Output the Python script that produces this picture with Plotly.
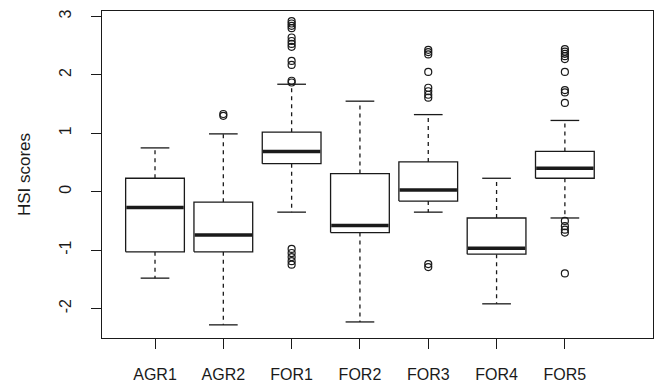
import plotly.graph_objects as go

categories = ["AGR1", "AGR2", "FOR1", "FOR2", "FOR3", "FOR4", "FOR5"]
lower_whisker = [-1.48, -2.28, -0.35, -2.23, -0.35, -1.92, -0.45]
q1 = [-1.03, -1.03, 0.48, -0.70, -0.16, -1.07, 0.23]
median = [-0.27, -0.74, 0.69, -0.58, 0.03, -0.97, 0.40]
q3 = [0.23, -0.18, 1.02, 0.31, 0.51, -0.45, 0.69]
upper_whisker = [0.75, 0.99, 1.84, 1.55, 1.32, 0.23, 1.22]
outliers = [
    [],
    [1.30, 1.33],
    [2.92, 2.88, 2.84, 2.80, 2.64, 2.58, 2.53, 2.48, 2.24, 2.17, 1.90, 1.87,
     -0.98, -1.05, -1.12, -1.19, -1.25],
    [],
    [2.43, 2.39, 2.35, 2.05, 1.78, 1.72, 1.66, 1.61, -1.24, -1.29],
    [],
    [2.44, 2.40, 2.36, 2.32, 2.27, 2.05, 1.74, 1.70, 1.52,
     -0.50, -0.59, -0.65, -0.70, -1.40],
]
y_ticks = [-2, -1, 0, 1, 2, 3]

BW = 0.43   # box half-width
CW = 0.21   # cap half-width
INK = "#1a1a1a"

bx, by, wx, wy, cx, cy, mx, my, ox, oy = [], [], [], [], [], [], [], [], [], []
for i, _ in enumerate(categories):
    p = i + 1
    bx += [p - BW, p + BW, p + BW, p - BW, p - BW, None]
    by += [q1[i], q1[i], q3[i], q3[i], q1[i], None]
    wx += [p, p, None, p, p, None]
    wy += [q3[i], upper_whisker[i], None, q1[i], lower_whisker[i], None]
    cx += [p - CW, p + CW, None, p - CW, p + CW, None]
    cy += [upper_whisker[i], upper_whisker[i], None, lower_whisker[i], lower_whisker[i], None]
    mx += [p - BW + 0.01, p + BW - 0.01, None]
    my += [median[i], median[i], None]
    for v in outliers[i]:
        ox.append(p)
        oy.append(v)

fig = go.Figure()
fig.add_trace(go.Scatter(x=wx, y=wy, mode="lines",
                         line=dict(color=INK, width=1.3, dash="4px,4px"),
                         hoverinfo="skip", showlegend=False))
fig.add_trace(go.Scatter(x=cx, y=cy, mode="lines",
                         line=dict(color=INK, width=1.3),
                         hoverinfo="skip", showlegend=False))
fig.add_trace(go.Scatter(x=bx, y=by, mode="lines", fill="toself", fillcolor="white",
                         line=dict(color=INK, width=1.3),
                         hoverinfo="skip", showlegend=False))
fig.add_trace(go.Scatter(x=mx, y=my, mode="lines",
                         line=dict(color=INK, width=3.5),
                         hoverinfo="skip", showlegend=False))
fig.add_trace(go.Scatter(x=ox, y=oy, mode="markers",
                         marker=dict(symbol="circle-open", size=7, color=INK,
                                     line=dict(width=1.2)),
                         showlegend=False))

fig.update_layout(
    width=659, height=384,
    margin=dict(l=102, r=6, t=11, b=46),
    paper_bgcolor="white", plot_bgcolor="white",
    font=dict(family="Liberation Sans, Arial, sans-serif", color=INK, size=16),
    xaxis=dict(range=[0.224, 8.29], tickvals=list(range(1, len(categories) + 1)),
               ticktext=categories, showgrid=False, zeroline=False, automargin=False,
               showline=True, mirror=True, linecolor=INK, linewidth=1.2,
               ticks="outside", ticklen=10, tickcolor=INK, tickwidth=1,
               ticklabelstandoff=12, tickfont=dict(size=16)),
    yaxis=dict(range=[-2.505, 3.094], tickvals=y_ticks,
               ticktext=[str(t) for t in y_ticks], tickangle=-90,
               showgrid=False, zeroline=False, automargin=False,
               showline=True, mirror=True, linecolor=INK, linewidth=1.2,
               ticks="outside", ticklen=10, tickcolor=INK, tickwidth=1,
               ticklabelstandoff=14, tickfont=dict(size=16),
               title=dict(text="HSI scores", font=dict(size=17), standoff=21)),
)

fig.write_html("out.html", config={"displayModeBar": False},
               post_script="document.body.style.margin='0';")
